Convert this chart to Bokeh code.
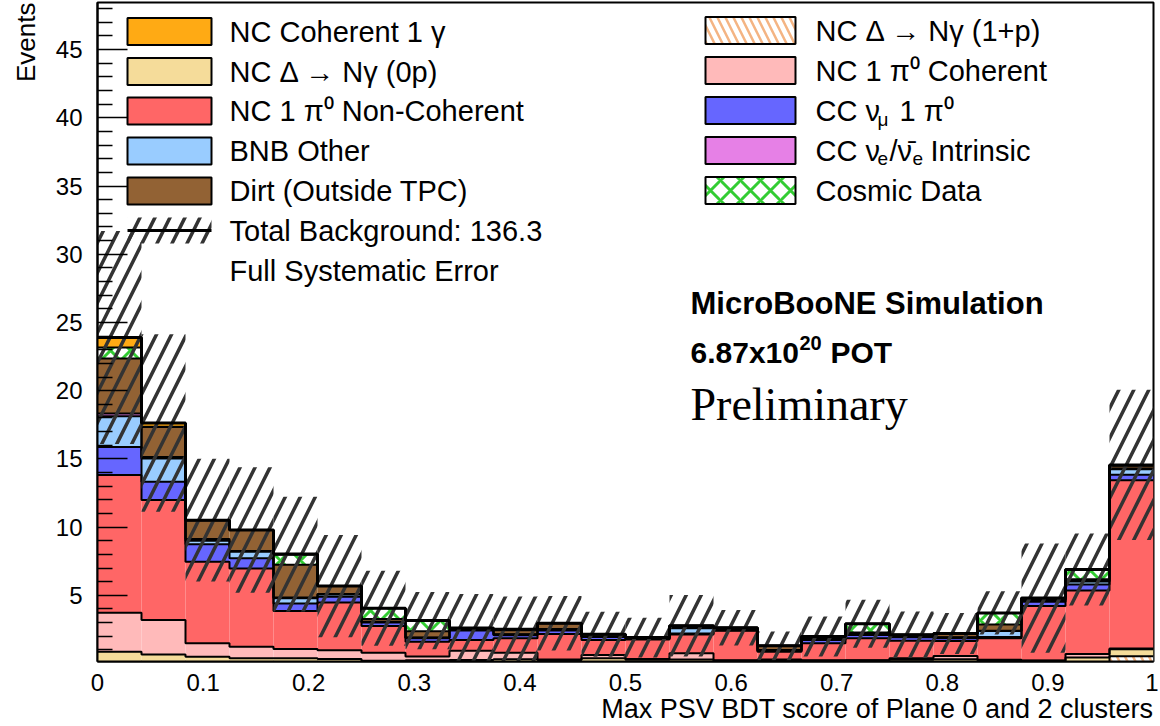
import numpy as np
from bokeh.plotting import figure
from bokeh.models import Range1d, FixedTicker, PrintfTickFormatter, BoxAnnotation, Label, Title
from bokeh.embed import file_html
from bokeh.resources import INLINE

# ---------------- data (events per bin, 24 bins on [0,1]) ----------------
x_lo, x_hi, n_bins = 0.0, 1.0, 24

nc_delta_1p   = [0.06,0.05,0.05,0.03,0.05,0.03,0.02,0.03,0.02,0.02,0.02,0.03,0.02,0.02,0.03,0.02,0.02,0.02,0.03,0.03,0.02,0.03,0.05,0.53]
nc_delta_0p   = [0.80,0.62,0.45,0.35,0.33,0.30,0.18,0.22,0.24,0.29,0.24,0.35,0.26,0.27,0.17,0.18,0.18,0.20,0.25,0.28,0.20,0.17,0.39,0.52]
nc_pi0_coh    = [2.86,2.52,0.98,0.85,0.68,0.64,0.60,0.26,0.68,0.48,0.03,0.24,0.05,0.46,0.05,0.10,0.05,0.03,0.10,0.24,0.05,0.03,0.26,0.05]
nc_pi0_noncoh = [10.09,8.79,5.98,5.74,2.79,3.50,1.95,1.09,0.78,1.06,1.87,1.10,1.44,1.37,2.15,0.56,1.23,1.60,1.29,1.10,1.58,3.98,4.65,12.34]
cc_numu_pi0   = [2.07,1.35,1.29,0.74,0.56,0.42,0.26,0.25,0.70,0.22,0.26,0.22,0.05,0.08,0.04,0.06,0.24,0.24,0.25,0.20,0.10,0.32,0.45,0.40]
bnb_other     = [2.25,1.70,0.25,0.48,0.37,0.17,0.04,0.04,0.06,0.05,0.10,0.03,0.02,0.38,0.03,0.06,0.12,0.05,0.07,0.05,0.43,0.12,0.22,0.40]
cc_nue        = [0.20,0.10,0.12,0.06,0.06,0.03,0.02,0.02,0.02,0.02,0.02,0.02,0.01,0.02,0.01,0.02,0.02,0.02,0.02,0.02,0.03,0.02,0.03,0.05]
dirt          = [4.03,2.20,1.39,1.53,2.40,0.59,0.20,0.45,0.10,0.30,0.41,0.15,0.05,0.17,0.15,0.30,0.12,0.12,0.10,0.28,0.45,0.13,0.13,0.22]
cosmic        = [0.80,0.03,0.00,0.00,0.73,0.00,0.78,0.79,0.00,0.08,0.00,0.00,0.00,0.00,0.00,0.00,0.00,0.63,0.00,0.00,0.85,0.00,0.72,0.00]
nc_coh_1g     = [0.74,0.27,0.00,0.00,0.05,0.00,0.00,0.00,0.00,0.00,0.00,0.00,0.00,0.00,0.00,0.00,0.00,0.00,0.00,0.00,0.00,0.00,0.00,0.05]
sys_err       = [7.8,6.5,4.5,4.6,4.2,3.75,2.75,2.1,2.5,2.4,2.0,1.65,1.45,2.25,1.3,1.05,1.47,1.76,1.7,1.5,1.58,4.0,2.64,5.5]

x_ticks = [0, 0.1, 0.2, 0.3, 0.4, 0.5, 0.6, 0.7, 0.8, 0.9, 1.0]
y_ticks = [5, 10, 15, 20, 25, 30, 35, 40, 45]
y_minor = [v for v in range(1, 49) if v % 5 != 0]

total_label = "Total Background: 136.3"

# stack order: bottom -> top
stack = [
    (nc_delta_1p,   dict(fill_color="white", hatch_pattern="\\", hatch_color="#f4b483", hatch_scale=16, hatch_weight=2.5)),
    (nc_delta_0p,   dict(fill_color="#f5dc9a")),
    (nc_pi0_coh,    dict(fill_color="#ffbaba")),
    (nc_pi0_noncoh, dict(fill_color="#ff6666")),
    (cc_numu_pi0,   dict(fill_color="#6666ff")),
    (bnb_other,     dict(fill_color="#99ccff")),
    (cc_nue,        dict(fill_color="#e680e6")),
    (dirt,          dict(fill_color="#926234")),
    (cosmic,        dict(fill_color="white", hatch_pattern="x", hatch_color="#33cc33", hatch_scale=20, hatch_weight=3)),
    (nc_coh_1g,     dict(fill_color="#ffaa14")),
]
err_hatch = dict(hatch_pattern="/", hatch_color="#333333", hatch_weight=3.5, hatch_scale=30)

# ---------------- figure ----------------
W, H = 1158, 724
y_lo, y_hi = 0.15, 48.45
p = figure(width=W, height=H, x_range=Range1d(x_lo, x_hi), y_range=Range1d(y_lo, y_hi),
           output_backend="svg", toolbar_location=None,
           min_border_left=97, min_border_right=W - 1153, min_border_top=2, min_border_bottom=H - 661)
p.xgrid.visible = False
p.ygrid.visible = False
p.outline_line_color = "black"
p.outline_line_width = 2
p.outline_line_alpha = 1.0

edges = np.linspace(x_lo, x_hi, n_bins + 1)
left, right = edges[:-1], edges[1:]

cum = np.zeros(n_bins)
tops = []
for vals, style in stack:
    bottom = cum.copy()
    cum = cum + np.array(vals)
    tops.append(cum.copy())
    p.quad(left=left, right=right, bottom=bottom, top=cum, line_color=None, **style)

for t in tops[:-1]:
    p.step(x=edges, y=np.append(t, t[-1]), mode="after", line_color="black", line_width=2)

total = tops[-1]
err = np.array(sys_err)
p.quad(left=left, right=right, bottom=total - err, top=total + err, fill_color=None, line_color=None, **err_hatch)
p.step(x=edges, y=np.append(total, total[-1]), mode="after", line_color="black", line_width=3)

# ---------------- axes ----------------
FONT = "Liberation Sans"
p.xaxis.ticker = FixedTicker(ticks=x_ticks, minor_ticks=[])
p.xaxis.formatter = PrintfTickFormatter(format="%g")
p.xaxis.major_tick_in = 0
p.xaxis.major_tick_out = 0
p.xaxis.minor_tick_in = 0
p.xaxis.minor_tick_out = 0
p.xaxis.major_label_standoff = 12
p.yaxis.ticker = FixedTicker(ticks=y_ticks, minor_ticks=y_minor)
p.yaxis.major_tick_in = 30
p.yaxis.major_tick_out = 0
p.yaxis.minor_tick_in = 15
p.yaxis.minor_tick_out = 0
p.yaxis.major_tick_line_width = 1.5
p.yaxis.minor_tick_line_width = 1.5
p.yaxis.major_label_standoff = 15
for ax in (p.xaxis, p.yaxis):
    ax.axis_line_width = 2
    ax.axis_line_color = "black"
    ax.major_tick_line_color = "black"
    ax.minor_tick_line_color = "black"
    ax.major_label_text_font = FONT
    ax.major_label_text_font_size = "24px"
    ax.major_label_text_color = "black"

p.add_layout(Title(text="Max PSV BDT score of Plane 0 and 2 clusters", align="right", offset=0,
                   standoff=-4, text_font=FONT, text_font_size="27px", text_font_style="normal",
                   text_color="black"), "below")
p.add_layout(Title(text="Events", align="right", vertical_align="top", standoff=20, text_font=FONT,
                   text_font_size="26px", text_font_style="normal", text_color="black"), "left")

# ---------------- pixel helpers for annotation placement ----------------
FL, FR, FT, FB = 97, 1153, 2, 661
def dx(sx):
    return x_lo + (sx - FL) / (FR - FL) * (x_hi - x_lo)
def dy(sy):
    return y_lo + (FB - sy) / (FB - FT) * (y_hi - y_lo)

def text(sx, sy, s, size="29px", font=FONT, style="normal", **kw):
    p.add_layout(Label(x=dx(sx), y=dy(sy), text=s, text_font=font, text_font_size=size,
                       text_font_style=style, text_baseline=kw.pop("baseline", "middle"),
                       text_align=kw.pop("align", "left"), text_color="black", **kw))

def legend_box(x0, x1, cy, style, h=27):
    p.add_layout(BoxAnnotation(left=dx(x0), right=dx(x1), top=dy(cy - h / 2), bottom=dy(cy + h / 2),
                               line_color="black", line_alpha=1.0, line_width=2, fill_alpha=1.0, **style))

# ---------------- legend ----------------
styles = [s for _, s in stack]
LX0, LX1, LTX = 127, 211, 229
RX0, RX1, RTX = 705, 795, 815
left_rows = [31, 71, 110.5, 150.5, 190.5, 230, 270]
right_rows = [30, 70, 110, 150, 190]

legend_box(LX0, LX1, left_rows[0], styles[9]); text(LTX, left_rows[0], "NC Coherent 1 γ")
legend_box(LX0, LX1, left_rows[1], styles[1]); text(LTX, left_rows[1], "NC Δ → Nγ (0p)")
legend_box(LX0, LX1, left_rows[2], styles[3]); text(LTX, left_rows[2], "NC 1 π⁰ Non-Coherent")
legend_box(LX0, LX1, left_rows[3], styles[5]); text(LTX, left_rows[3], "BNB Other")
legend_box(LX0, LX1, left_rows[4], styles[7]); text(LTX, left_rows[4], "Dirt (Outside TPC)")
p.add_layout(BoxAnnotation(left=dx(LX0), right=dx(LX1), top=dy(left_rows[5] - 13), bottom=dy(left_rows[5] + 13),
                           fill_color=None, line_color=None, **err_hatch))
p.add_layout(BoxAnnotation(left=dx(LX0), right=dx(LX1), top=dy(left_rows[5] - 1.5), bottom=dy(left_rows[5] + 1.5),
                           fill_color="black", fill_alpha=1.0, line_color=None))
text(LTX, left_rows[5], total_label)
text(LTX, left_rows[6], "Full Systematic Error")

legend_box(RX0, RX1, right_rows[0], styles[0]); text(RTX, right_rows[0], "NC Δ → Nγ (1+p)")
legend_box(RX0, RX1, right_rows[1], styles[2]); text(RTX, right_rows[1], "NC 1 π⁰ Coherent")
legend_box(RX0, RX1, right_rows[2], styles[4])
text(RTX, right_rows[2], "CC ν")
text(RTX + 62, right_rows[2] + 9, "μ", size="19px")
text(RTX + 84, right_rows[2], "1 π⁰")
legend_box(RX0, RX1, right_rows[3], styles[6])
text(RTX, right_rows[3], "CC ν")
text(RTX + 62, right_rows[3] + 8, "e", size="19px")
text(RTX + 74, right_rows[3], "/")
text(RTX + 82, right_rows[3], "ν\u0304")
text(RTX + 97, right_rows[3] + 8, "e", size="19px")
text(RTX + 115, right_rows[3], "Intrinsic")
legend_box(RX0, RX1, right_rows[4], styles[8]); text(RTX, right_rows[4], "Cosmic Data")

# ---------------- info text ----------------
text(690, 303, "MicroBooNE Simulation", size="31px", style="bold")
text(690, 352, "6.87x10", size="30px", style="bold")
text(799, 342, "20", size="20px", style="bold")
text(830, 352, "POT", size="30px", style="bold")
text(690, 404, "Preliminary", size="46px", font="Liberation Serif")

open("out.html", "w").write(file_html(p, INLINE))
